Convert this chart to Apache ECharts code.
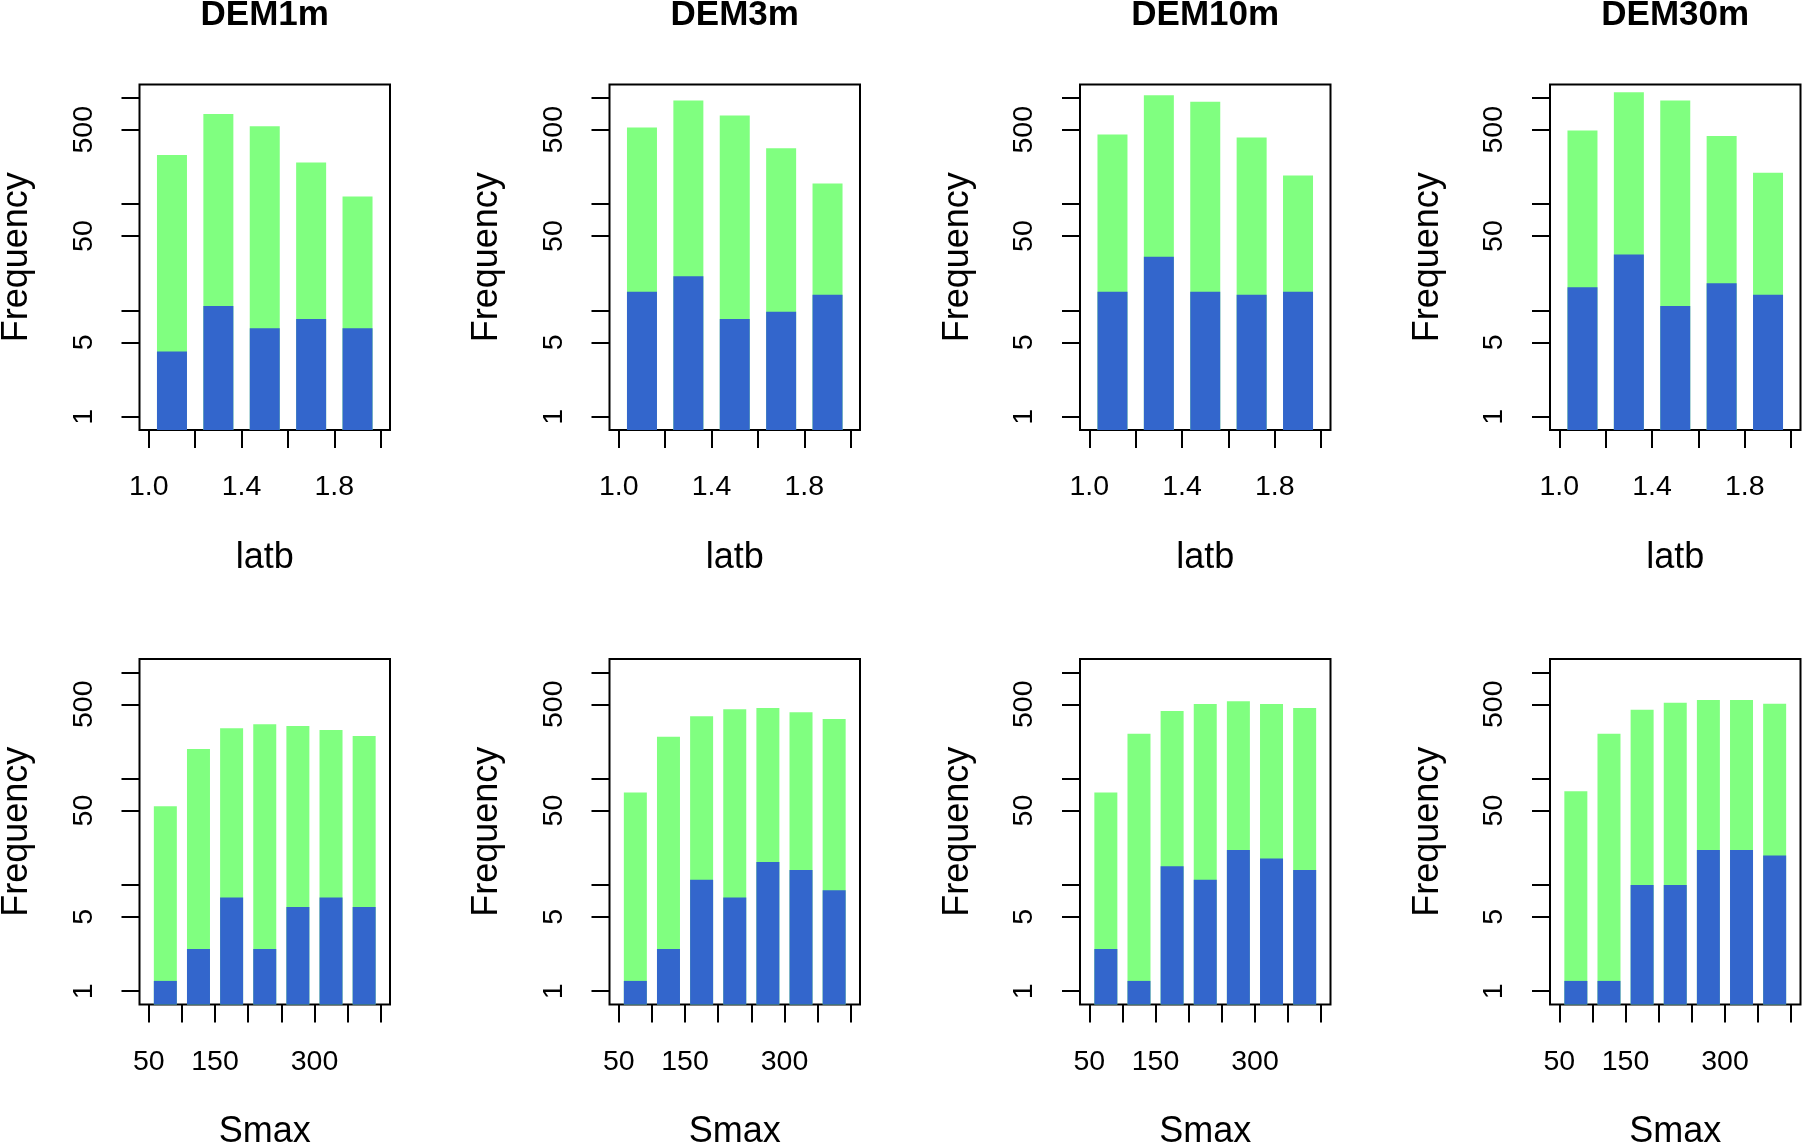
<!DOCTYPE html>
<html>
<head>
<meta charset="utf-8">
<title>DEM frequency barplots</title>
<script src="https://cdn.jsdelivr.net/npm/echarts@6/dist/echarts.min.js"></script>
<style>
  html, body { margin: 0; padding: 0; background: #fff; }
  #chart { width: 1802px; height: 1142px; }
</style>
</head>
<body>
<div id="chart"></div>
<script>
var demNames = ['DEM1m', 'DEM3m', 'DEM10m', 'DEM30m'];

// row 1: latb bins
var latbMids = [1.1, 1.3, 1.5, 1.7, 1.9];
var latbTicks = [1.0, 1.2, 1.4, 1.6, 1.8, 2.0];
var latbLabels = [1.0, 1.4, 1.8];
// top of green bar (all) and blue part, one row per DEM
var latbAll = [
  [290, 702, 541, 246, 118],
  [525, 943, 681, 336, 156],
  [451, 1059, 916, 423, 186],
  [492, 1130, 943, 438, 197]
];
var latbBlue = [
  [4.1, 11, 6.8, 8.3, 6.8],
  [15, 21, 8.3, 9.7, 14],
  [15, 32, 15, 14, 15],
  [16.5, 33.5, 11, 18, 14]
];

// row 2: Smax bins
var smaxMids = [75, 125, 175, 225, 275, 325, 375];
var smaxTicks = [50, 100, 150, 200, 250, 300, 350, 400];
var smaxLabels = [50, 150, 300];
var smaxAll = [
  [55, 190, 297, 324, 312, 286, 251],
  [74, 248, 385, 448, 461, 420, 363],
  [74, 264, 432, 503, 533, 503, 461],
  [76, 264, 445, 518, 549, 549, 507]
];
var smaxBlue = [
  [1.25, 2.5, 7.6, 2.5, 6.2, 7.6, 6.2],
  [1.25, 2.5, 11.2, 7.6, 16.4, 13.8, 8.9],
  [2.5, 1.25, 15, 11.2, 21.3, 17.7, 13.8],
  [1.25, 1.25, 10, 10, 21.3, 21.3, 18.9]
];

var freqTicks = [1, 5, 10, 50, 100, 500, 1000];
var freqLabels = [1, 5, 50, 500];

var FONT = '"Liberation Sans", Arial, Helvetica, sans-serif';
var GREEN = '#80FF80';
var BLUE = '#3366CC';

// log10 frequency axis, frame starts FLOOR decades below 1 (like R's 4% padding)
var FLOOR = 0.125;
var SPAN = 3 + 2 * FLOOR;
function toAxis(v) { return Math.log10(v) + FLOOR; }

var panelLeft = [139.5, 609.5, 1080, 1550];
var panelTop = [84.5, 659];
var panelW = 250.5;
var panelH = 345.5;

var rows = [
  { name: 'latb', mids: latbMids, ticks: latbTicks, labels: latbLabels,
    all: latbAll, blue: latbBlue, min: 0.96, max: 2.04, barWidth: 30,
    fmt: function (v) { return v.toFixed(1); } },
  { name: 'Smax', mids: smaxMids, ticks: smaxTicks, labels: smaxLabels,
    all: smaxAll, blue: smaxBlue, min: 36, max: 414, barWidth: 23,
    fmt: function (v) { return String(Math.round(v)); } }
];

var grids = [], xAxes = [], yAxes = [], series = [], titles = [];

demNames.forEach(function (dem, c) {
  titles.push({
    text: dem,
    left: panelLeft[c] + panelW / 2,
    top: -2,
    textAlign: 'center',
    padding: 0,
    textStyle: { fontFamily: FONT, fontSize: 35, fontWeight: 'bold', color: '#000' }
  });
});

rows.forEach(function (row, r) {
  demNames.forEach(function (dem, c) {
    var g = grids.length;
    grids.push({
      left: panelLeft[c], top: panelTop[r], width: panelW, height: panelH,
      show: true, borderColor: '#000', borderWidth: 2,
      backgroundColor: 'transparent', containLabel: false, outerBoundsMode: 'none'
    });
    xAxes.push({
      gridIndex: g, type: 'value', min: row.min, max: row.max, position: 'bottom',
      name: row.name, nameLocation: 'middle', nameGap: 110,
      nameTextStyle: { fontFamily: FONT, fontSize: 36, color: '#000' },
      axisLine: { show: false },
      axisTick: { show: true, inside: false, length: 18, customValues: row.ticks,
        lineStyle: { color: '#000', width: 2 } },
      axisLabel: { customValues: row.labels, margin: 43, fontFamily: FONT,
        fontSize: 28.5, color: '#000', formatter: row.fmt },
      splitLine: { show: false }
    });
    yAxes.push({
      gridIndex: g, type: 'value', min: 0, max: SPAN,
      name: 'Frequency', nameLocation: 'middle', nameGap: 104, nameRotate: 90,
      nameTextStyle: { fontFamily: FONT, fontSize: 36, color: '#000' },
      axisLine: { show: false },
      axisTick: { show: true, inside: false, length: 18, customValues: freqTicks.map(toAxis),
        lineStyle: { color: '#000', width: 2 } },
      axisLabel: { customValues: freqLabels.map(toAxis), rotate: 90, margin: 41,
        fontFamily: FONT, fontSize: 28.5, color: '#000',
        formatter: function (v) { return String(Math.round(Math.pow(10, v - FLOOR))); } },
      splitLine: { show: false }
    });
    series.push({
      type: 'bar', xAxisIndex: g, yAxisIndex: g, barWidth: row.barWidth, barGap: '-100%',
      itemStyle: { color: GREEN }, silent: true,
      data: row.mids.map(function (m, k) { return [m, toAxis(row.all[c][k])]; })
    });
    series.push({
      type: 'bar', xAxisIndex: g, yAxisIndex: g, barWidth: row.barWidth, barGap: '-100%',
      itemStyle: { color: BLUE }, silent: true,
      data: row.mids.map(function (m, k) { return [m, toAxis(row.blue[c][k])]; })
    });
  });
});

var chart = echarts.init(document.getElementById('chart'));
chart.setOption({
  animation: false,
  backgroundColor: '#fff',
  title: titles,
  grid: grids,
  xAxis: xAxes,
  yAxis: yAxes,
  series: series
});
window.addEventListener('resize', chart.resize);
</script>
</body>
</html>
